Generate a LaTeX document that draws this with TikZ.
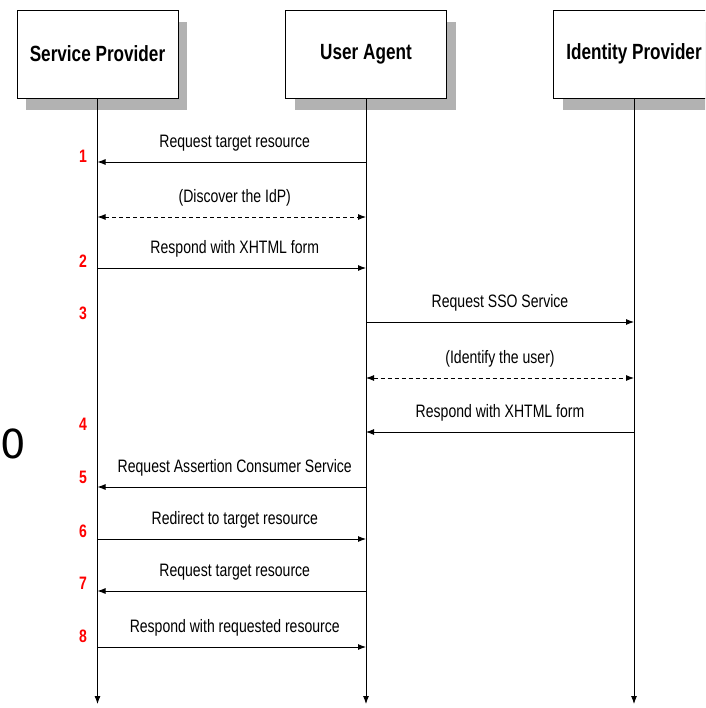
\documentclass[tikz,border=0pt]{standalone}
\usepackage{fontspec}
\setmainfont{Liberation Sans}
\newfontfamily\lblfont[FakeStretch=0.78]{Liberation Sans}
\newfontfamily\zerofont{DejaVu Sans}
\usetikzlibrary{arrows.meta,shadows}
\begin{document}
\begin{tikzpicture}[x=1pt,y=-1pt,
  actor/.style={draw=black, fill=white, line width=0.9pt, minimum width=161pt, minimum height=88pt,
    inner sep=0pt, font=\lblfont\bfseries\fontsize{22}{24}\selectfont,
    drop shadow={shadow xshift=9pt, shadow yshift=-12pt, fill=gray!60, opacity=1}},
  life/.style={line width=0.9pt, -{Latex[length=8pt,width=6pt]}},
  msg/.style={line width=0.9pt, -{Latex[length=8pt,width=6pt]}},
  both/.style={line width=0.9pt, dashed, dash pattern=on 4pt off 3pt, {Latex[length=8pt,width=6pt]}-{Latex[length=8pt,width=6pt]}},
  lbl/.style={midway, yshift=19pt, font=\lblfont\fontsize{18}{20}\selectfont, inner sep=0pt},
  lbll/.style={lbl, xshift=3pt},
  num/.style={text=red, font=\lblfont\bfseries\fontsize{18}{20}\selectfont, inner sep=0pt}
]
\useasboundingbox (0,0) rectangle (705,708);
\clip (0,0) rectangle (705,708);
\fill[white] (0,0) rectangle (705,708);

\node[actor] (sp) at (97.5,54) {Service Provider};
\node[actor] (ua) at (366,54) {User Agent};
\node[actor] (idp) at (634,54) {Identity Provider};

\coordinate (bot) at (0,704);
\draw[life] (sp.south) -- (sp |- bot);
\draw[life] (ua.south) -- (ua |- bot);
\draw[life] (idp.south) -- (idp |- bot);

\coordinate (m1) at (0,162);
\coordinate (d1) at (0,217);
\coordinate (m2) at (0,268);
\coordinate (m3) at (0,322);
\coordinate (d2) at (0,378);
\coordinate (m4) at (0,432);
\coordinate (m5) at (0,487);
\coordinate (m6) at (0,539);
\coordinate (m7) at (0,591);
\coordinate (m8) at (0,647);

\draw[msg] (ua |- m1) -- (sp |- m1) node[lbll] {Request target resource};
\draw[both] (sp |- d1) -- (ua |- d1) node[lbll] {(Discover the IdP)};
\draw[msg] (sp |- m2) -- (ua |- m2) node[lbll] {Respond with XHTML form};
\draw[msg] (ua |- m3) -- (idp |- m3) node[lbl] {Request SSO Service};
\draw[both] (ua |- d2) -- (idp |- d2) node[lbl] {(Identify the user)};
\draw[msg] (idp |- m4) -- (ua |- m4) node[lbl] {Respond with XHTML form};
\draw[msg] (ua |- m5) -- (sp |- m5) node[lbll] {Request Assertion Consumer Service};
\draw[msg] (sp |- m6) -- (ua |- m6) node[lbll] {Redirect to target resource};
\draw[msg] (ua |- m7) -- (sp |- m7) node[lbll] {Request target resource};
\draw[msg] (sp |- m8) -- (ua |- m8) node[lbll] {Respond with requested resource};

\node[num] (n1) at (83,156) {1};
\node[num] (n2) at (83,261) {2};
\node[num] (n3) at (83,313) {3};
\node[num] (n4) at (83,424) {4};
\node[num] (n5) at (83,477) {5};
\node[num] (n6) at (83,531) {6};
\node[num] (n7) at (83,583) {7};
\node[num] (n8) at (83,636) {8};

\node[font=\zerofont\fontsize{40}{42}\selectfont, inner sep=0pt, anchor=west] (zero) at (0,444) {0};
\end{tikzpicture}
\end{document}
